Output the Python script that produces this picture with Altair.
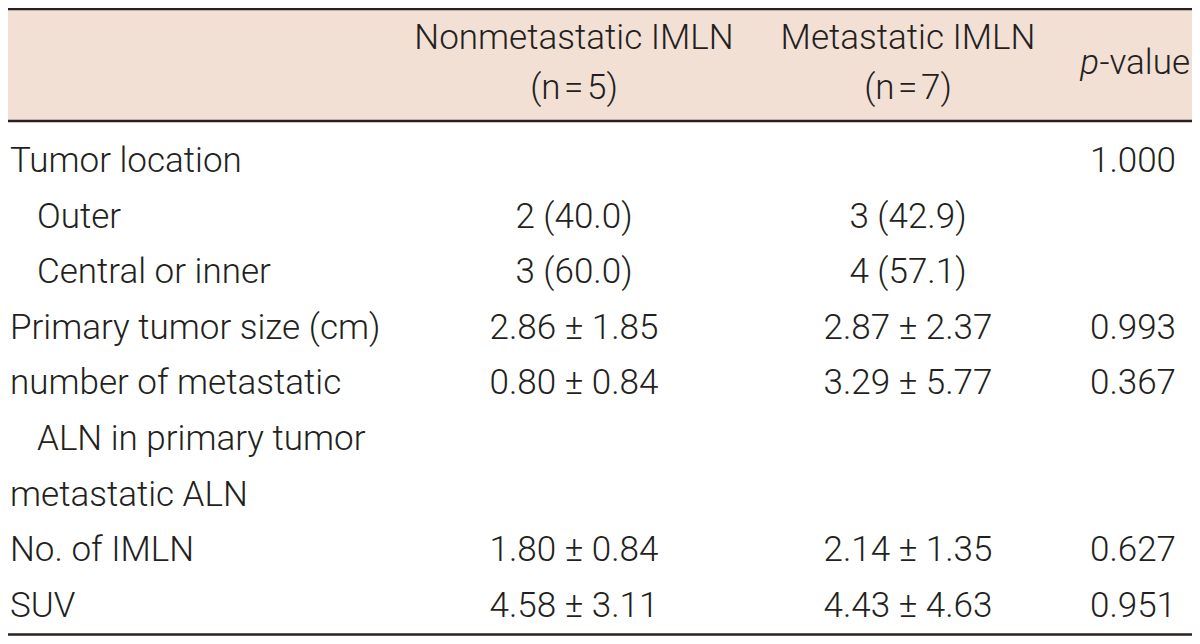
import altair as alt
import pandas as pd

# ---- table content ----
row_labels = ["Tumor location", "Outer", "Central or inner", "Primary tumor size (cm)",
              "number of metastatic", "ALN in primary tumor", "metastatic ALN",
              "No. of IMLN", "SUV"]
row_indent = [0, 1, 1, 0, 0, 1, 0, 0, 0]
col_nonmet = ["", "2 (40.0)", "3 (60.0)", "2.86 ± 1.85", "0.80 ± 0.84", "", "",
              "1.80 ± 0.84", "4.58 ± 3.11"]
col_met = ["", "3 (42.9)", "4 (57.1)", "2.87 ± 2.37", "3.29 ± 5.77", "", "",
           "2.14 ± 1.35", "4.43 ± 4.63"]
col_p = ["1.000", "", "", "0.993", "0.367", "", "", "0.627", "0.951"]

header_nonmet = ["Nonmetastatic IMLN", "(n\u200a=\u200a5)"]
header_met = ["Metastatic IMLN", "(n\u200a=\u200a7)"]
header_p_italic = "p"
header_p_rest = "-value"
header_line_rows = [-2.212, -1.313]   # header text lines, in row units
header_p_row = -1.763

# ---- layout (styles / positions) ----
W, H = 1184, 628
FONT = "Roboto, Liberation Sans, sans-serif"
FS = 35
FW = 300
TXT = "#231f20"
BG = "#f3e0d5"
RULE = "#2b1f1f"
COL_X = {"label": 2, "indent": 29, "nonmet": 566, "met": 900, "p": 1168, "phead": 1182}
P_ITALIC_DX = -91
Y_DOMAIN = [-2.9496, 8.3453]

body = pd.DataFrame({
    "row": list(range(len(row_labels))),
    "label": row_labels,
    "indent": row_indent,
    "nonmet": col_nonmet,
    "met": col_met,
    "p": col_p,
})
head = pd.DataFrame({
    "row": header_line_rows,
    "nonmet": header_nonmet,
    "met": header_met,
})
phead = pd.DataFrame({"row": [header_p_row], "p": [header_p_rest], "pi": [header_p_italic]})

yenc = alt.Y("row:Q", scale=alt.Scale(domain=Y_DOMAIN, reverse=True, nice=False, zero=False), axis=None)


def text_layer(df, field, xpos, align, filt=None, style="normal", dx=0):
    base = alt.Chart(df)
    if filt is not None:
        base = base.transform_filter(filt)
    return base.mark_text(
        align=align, baseline="alphabetic", font=FONT, fontSize=FS, fontWeight=FW,
        color=TXT, fontStyle=style, dx=dx,
    ).encode(x=alt.value(xpos), y=yenc, text=f"{field}:N")


bg = alt.Chart(phead).mark_rect(color=BG).encode(
    x=alt.value(0), x2=alt.value(W), y=alt.value(0), y2=alt.value(112))
rule_top = alt.Chart(phead).mark_rule(color=RULE, strokeWidth=2.5).encode(
    x=alt.value(0), x2=alt.value(W), y=alt.value(1))
rule_mid = alt.Chart(phead).mark_rule(color=RULE, strokeWidth=2.5).encode(
    x=alt.value(0), x2=alt.value(W), y=alt.value(113))
rule_bot = alt.Chart(phead).mark_rule(color=RULE, strokeWidth=2.5).encode(
    x=alt.value(0), x2=alt.value(W), y=alt.value(626.5))

layers = [
    bg, rule_top, rule_mid, rule_bot,
    text_layer(body, "label", COL_X["label"], "left", alt.datum.indent == 0),
    text_layer(body, "label", COL_X["indent"], "left", alt.datum.indent == 1),
    text_layer(body, "nonmet", COL_X["nonmet"], "center"),
    text_layer(body, "met", COL_X["met"], "center"),
    text_layer(body, "p", COL_X["p"], "right"),
    text_layer(head, "nonmet", COL_X["nonmet"], "center"),
    text_layer(head, "met", COL_X["met"], "center"),
    text_layer(phead, "p", COL_X["phead"], "right"),
    text_layer(phead, "pi", COL_X["phead"], "right", style="italic", dx=P_ITALIC_DX),
]

chart = alt.layer(*layers).properties(
    width=W, height=H, padding=0, autosize=alt.AutoSizeParams(type="none"),
    background="white",
).configure_view(stroke=None)

chart.save("out.html", embed_options={"renderer": "svg", "actions": False})
